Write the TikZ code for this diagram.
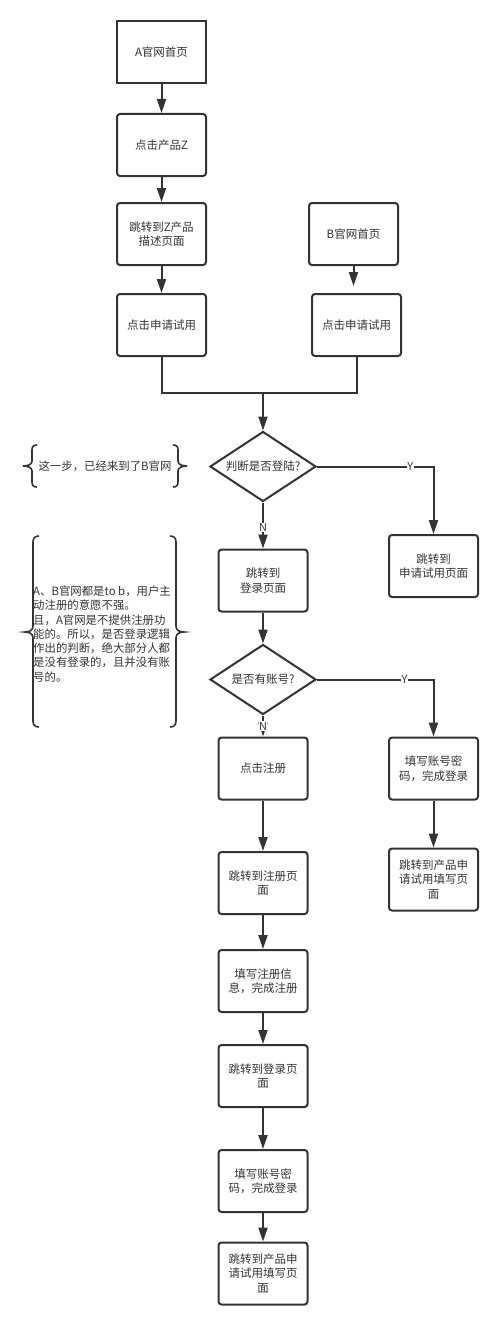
\documentclass[tikz,border=0pt]{standalone}
\usepackage{fontspec}
\setmainfont{Noto Sans CJK SC}
\usetikzlibrary{arrows.meta,shapes.geometric}
\definecolor{ink}{HTML}{333333}
\tikzset{
  x=1pt,y=-1pt,
  flowbox/.style={draw=ink,line width=2pt,rounded corners=3pt,minimum width=89pt,minimum height=62pt,
    inner sep=0pt,align=center,text=ink,font=\fontsize{11.5}{14.5}\selectfont},
  decision/.style={draw=ink,line width=2pt,diamond,shape aspect=1.54,minimum width=106pt,minimum height=70pt,
    inner sep=0pt,align=center,text=ink,font=\fontsize{11.5}{14}\selectfont},
  flow/.style={draw=ink,line width=2pt,-{Triangle[length=14pt,width=9pt]}},
  plain/.style={draw=ink,line width=2pt},
  yn/.style={fill=white,inner sep=0.5pt,text=ink,font=\fontsize{11}{12}\selectfont},
  bracepath/.style={draw=ink,line width=1.6pt},
  note/.style={inner sep=0pt,text=ink,font=\fontsize{11.4}{14.3}\selectfont}
}
\begin{document}
\begin{tikzpicture}
\fill[white] (0,0) rectangle (500,1327);
\useasboundingbox (0,0) rectangle (500,1327);

% left column top
\node[flowbox,sharp corners] (a1) at (161.5,52.5) {A官网首页};
\node[flowbox] (a2) at (161.5,145) {点击产品Z};
\node[flowbox] (a3) at (161.5,234) {跳转到Z产品\\描述页面};
\node[flowbox] (a4) at (161.5,325) {点击申请试用};
\node[flowbox] (b1) at (353.5,234) {B官网首页};
\node[flowbox] (b2) at (356.5,325) {点击申请试用};

\node[decision] (d1) at (263,466.5) {判断是否登陆?};
\node[flowbox] (r1) at (433.5,566) {跳转到\\申请试用页面};
\node[flowbox] (c1) at (263,580.5) {跳转到\\登录页面};
\node[decision] (d2) at (263,679.5) {是否有账号?};
\node[flowbox] (r2) at (433.5,768.5) {填写账号密\\码，完成登录};
\node[flowbox] (r3) at (433.5,879.5) {跳转到产品申\\请试用填写页\\面};
\node[flowbox] (c2) at (263,768.5) {点击注册};
\node[flowbox] (c3) at (263,883) {跳转到注册页\\面};
\node[flowbox] (c4) at (263,981) {填写注册信\\息，完成注册};
\node[flowbox] (c5) at (263,1076) {跳转到登录页\\面};
\node[flowbox] (c6) at (263,1181) {填写账号密\\码，完成登录};
\node[flowbox] (c7) at (263,1273.5) {跳转到产品申\\请试用填写页\\面};

% connectors
\draw[flow] (a1) -- (a2);
\draw[flow] (a2) -- (a3);
\draw[flow] (a3) -- (a4);
\draw[flow,shorten >=7pt] (b1.south) -- (b1.south |- b2.north);
\coordinate (m) at (263,393);
\draw[plain] (a4.south) |- (m);
\draw[plain] (b2.south) |- (m);
\draw[flow] (m) -- (d1.north);
\draw[flow] (d1.east) -| (r1.north) node[yn,pos=0.4] {Y};
\draw[flow] (d1.south) -- (c1.north) node[yn,pos=0.54] {N};
\draw[flow] (c1) -- (d2);
\draw[flow] (d2.east) -| (r2.north) node[yn,pos=0.376] {Y};
\draw[flow] (d2.south) -- (c2.north) node[yn,pos=0.5] {N};
\draw[flow] (r2) -- (r3);
\draw[flow] (c2) -- (c3);
\draw[flow] (c3) -- (c4);
\draw[flow] (c4) -- (c5);
\draw[flow] (c5) -- (c6);
\draw[flow] (c6) -- (c7);

% annotation 1
\draw[bracepath] (37,445) .. controls (33.5,445) and (32,446.5) .. (32,450) -- (32,461)
  .. controls (32,464.5) and (28,466) .. (23,466) .. controls (28,466) and (32,467.5) .. (32,471)
  -- (32,482) .. controls (32,485.5) and (33.5,487) .. (37,487);
\draw[bracepath] (173,445) .. controls (176.5,445) and (178,446.5) .. (178,450) -- (178,461)
  .. controls (178,464.5) and (182,466) .. (187,466) .. controls (182,466) and (178,467.5) .. (178,471)
  -- (178,482) .. controls (178,485.5) and (176.5,487) .. (173,487);
\node[note] (n1) at (105,466) {这一步，已经来到了B官网};

% annotation 2
\draw[bracepath] (39,536) .. controls (35,536) and (33,538) .. (33,542) -- (33,626)
  .. controls (33,630) and (30,632) .. (25,632) .. controls (30,632) and (33,634) .. (33,638)
  -- (33,721) .. controls (33,725) and (35,727) .. (39,727);
\draw[bracepath] (170,536) .. controls (174,536) and (176,538) .. (176,542) -- (176,626)
  .. controls (176,630) and (179,632) .. (184,632) .. controls (179,632) and (176,634) .. (176,638)
  -- (176,721) .. controls (176,725) and (174,727) .. (170,727);
\node[note,anchor=west,align=left] (n2) at (33,634) {A、B官网都是to b，用户主\\动注册的意愿不强。\\且，A官网是不提供注册功\\能的。所以，是否登录逻辑\\作出的判断，绝大部分人都\\是没有登录的，且并没有账\\号的。};
\end{tikzpicture}
\end{document}
